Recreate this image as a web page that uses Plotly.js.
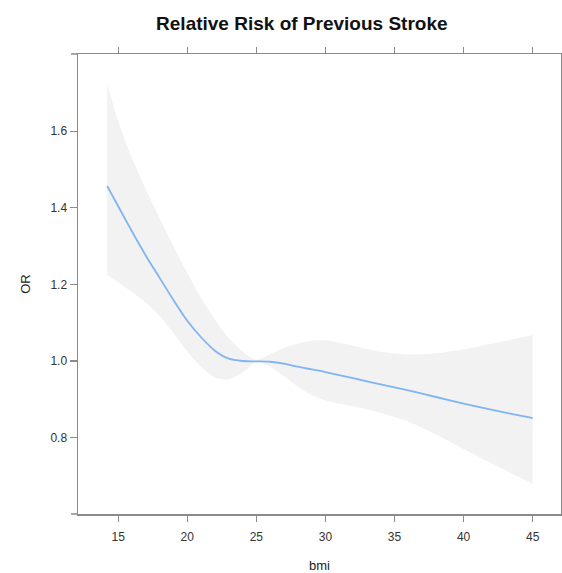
<!DOCTYPE html>
<html>
<head>
<meta charset="utf-8">
<script src="https://cdn.plot.ly/plotly-3.0.1.min.js"></script>
<style>html,body{margin:0;padding:0;background:#fff;}#chart{width:562px;height:573px;}</style>
</head>
<body>
<div id="chart"></div>
<script>
// Data
const bmi   = [14.2, 15, 16, 17, 18, 19, 20, 21, 22, 23, 24, 25, 26, 27, 28, 29, 30, 32, 34, 36, 38, 40, 42, 44, 45];
const orFit = [1.457, 1.404, 1.338, 1.275, 1.217, 1.159, 1.105, 1.062, 1.027, 1.006, 1.000, 0.999, 0.998, 0.993, 0.985, 0.978, 0.971, 0.955, 0.939, 0.923, 0.906, 0.889, 0.873, 0.858, 0.851];
const upper = [1.725, 1.625, 1.530, 1.448, 1.373, 1.300, 1.230, 1.165, 1.108, 1.060, 1.025, 1.003, 1.018, 1.034, 1.046, 1.053, 1.054, 1.040, 1.024, 1.017, 1.020, 1.030, 1.045, 1.060, 1.068];
const lower = [1.225, 1.205, 1.180, 1.152, 1.117, 1.073, 1.025, 0.985, 0.957, 0.952, 0.970, 0.997, 0.985, 0.960, 0.933, 0.911, 0.897, 0.882, 0.865, 0.842, 0.808, 0.770, 0.733, 0.697, 0.680];
const xTicks = [15, 20, 25, 30, 35, 40, 45];
const yTicks = [0.8, 1.0, 1.2, 1.4, 1.6];
const yTickText = ['0.8', '1.0', '1.2', '1.4', '1.6'];

const bandLower = {
  x: bmi, y: lower, type: 'scatter', mode: 'lines',
  line: {width: 0, color: 'rgba(0,0,0,0)', shape: 'spline', smoothing: 0.7},
  hoverinfo: 'skip', showlegend: false
};
const bandUpper = {
  x: bmi, y: upper, type: 'scatter', mode: 'lines', fill: 'tonexty',
  fillcolor: '#f2f2f2',
  line: {width: 0, color: 'rgba(0,0,0,0)', shape: 'spline', smoothing: 0.7},
  hoverinfo: 'skip', showlegend: false
};
const fit = {
  x: bmi, y: orFit, type: 'scatter', mode: 'lines',
  line: {color: '#80b4f2', width: 1.8, shape: 'spline', smoothing: 0.8},
  showlegend: false
};

const fontFam = 'Liberation Sans, Arial, sans-serif';
const axisCommon = {
  showgrid: false, zeroline: false, showline: true, linecolor: '#8a8a8a', linewidth: 1.5,
  ticks: 'outside', tickcolor: '#8a8a8a', tickwidth: 1.2,
  tickfont: {family: fontFam, size: 12, color: '#333'}
};

const layout = {
  width: 562, height: 573,
  margin: {l: 77.5, r: 1, t: 54, b: 59},
  paper_bgcolor: '#fff', plot_bgcolor: '#fff',
  title: {
    text: '<b>Relative Risk of Previous Stroke</b>',
    font: {family: fontFam, size: 19, color: '#111'},
    xref: 'container', x: 0.537, xanchor: 'center',
    yref: 'container', y: 0.960, yanchor: 'middle'
  },
  xaxis: Object.assign({}, axisCommon, {
    range: [12.09, 47.05], tickvals: xTicks, ticklen: 6, mirror: 'ticks', ticklabelstandoff: 5,
    title: {text: 'bmi', font: {family: fontFam, size: 13, color: '#222'}, standoff: 18}
  }),
  yaxis: Object.assign({}, axisCommon, {
    range: [0.6005, 1.8016], tickvals: yTicks, ticktext: yTickText, ticklen: 7, mirror: true,
    title: {text: 'OR', font: {family: fontFam, size: 13, color: '#222'}, standoff: 17}
  }),
  shapes: [
    {type: 'line', xref: 'paper', yref: 'paper', x0: -0.0145, x1: 0, y0: 0, y1: 0, line: {color: '#8a8a8a', width: 1.5}},
    {type: 'line', xref: 'paper', yref: 'paper', x0: -0.0145, x1: 0, y0: 1, y1: 1, line: {color: '#8a8a8a', width: 1.5}}
  ]
};

Plotly.newPlot('chart', [bandLower, bandUpper, fit], layout, {displayModeBar: false, staticPlot: true});
</script>
</body>
</html>
